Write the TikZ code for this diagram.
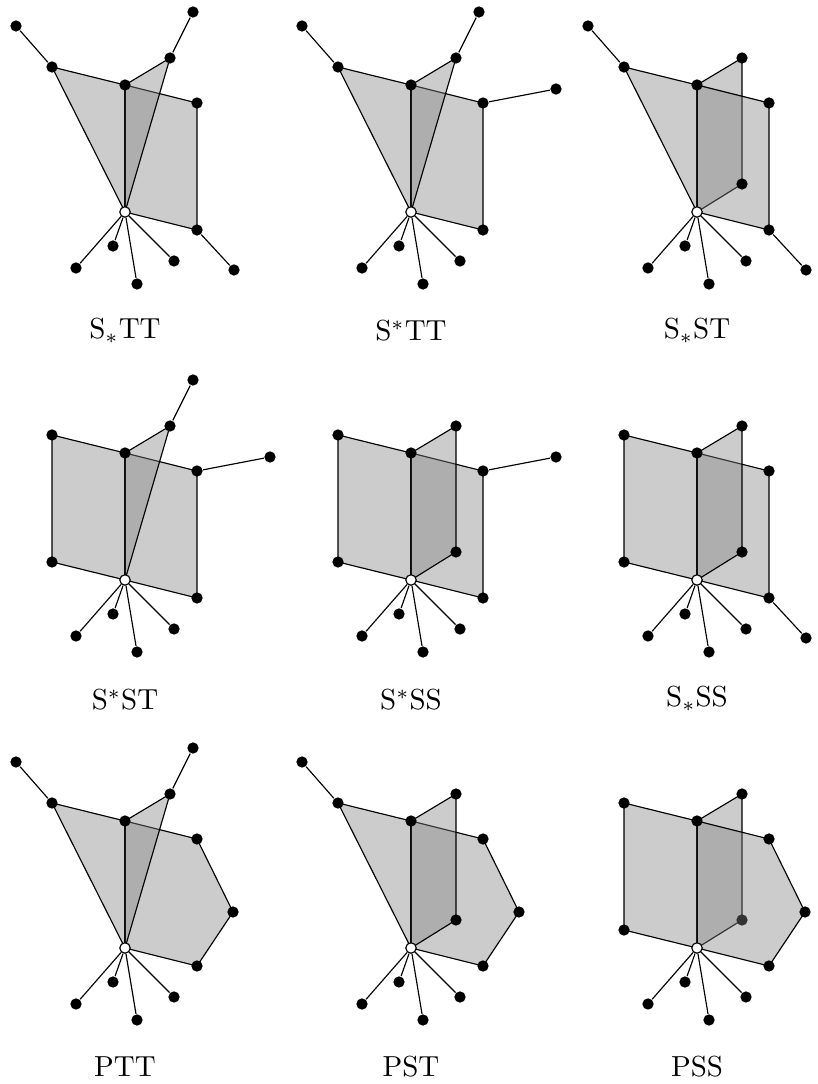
\documentclass[tikz,border=0pt]{standalone}
\usepackage{amsmath, amssymb}
\usepackage{xcolor}
\usetikzlibrary{backgrounds}

\tikzset{
  blob/.style={circle, fill=black, inner sep=0pt, minimum size=3.9pt},
  hollow/.style={circle, draw, fill=white, inner sep=0pt, minimum size=3.6pt},
  face/.style={draw, fill=gray, fill opacity=.4, line join=round},
  lab/.style={anchor=base}
}

% hub with its four loose spokes
\newcommand{\hub}{
  \node[hollow] (w) at (0,0) {};
  \node[blob] (t) at (0,127) {};
  \node[blob] (s1) at (-49,-56) {};
  \node[blob] (s2) at (-12,-34) {};
  \node[blob] (s3) at (12,-72) {};
  \node[blob] (s4) at (49,-49) {};
  \draw (w)--(s1);
  \draw (w)--(s2);
  \draw (w)--(s3);
  \draw (w)--(s4);
}
% left page
\newcommand{\lefttri}{
  \node[blob] (l) at (-73,145) {};
  \node[blob] (lp) at (-109,186) {};
  \draw (l)--(lp);
  \begin{scope}[on background layer]
    \draw[face] (w.center)--(t.center)--(l.center)--cycle;
  \end{scope}
}
\newcommand{\leftsq}{
  \node[blob] (l) at (-73,145) {};
  \node[blob] (ld) at (-73,18) {};
  \begin{scope}[on background layer]
    \draw[face] (w.center)--(t.center)--(l.center)--(ld.center)--cycle;
  \end{scope}
}
% back page
\newcommand{\backtri}{
  \node[blob] (b) at (45,154) {};
  \node[blob] (bp) at (68,200) {};
  \draw (b)--(bp);
  \begin{scope}[on background layer]
    \draw[face] (w.center)--(t.center)--(b.center)--cycle;
  \end{scope}
}
\newcommand{\backsq}[1][]{
  \node[blob] (b) at (45,154) {};
  \node[blob, #1] (bd) at (45,28) {};
  \begin{scope}[on background layer]
    \draw[face] (w.center)--(t.center)--(b.center)--(bd.center)--cycle;
  \end{scope}
}
% right page
\newcommand{\rightsq}{
  \node[blob] (ru) at (72,109) {};
  \node[blob] (rd) at (72,-18) {};
  \begin{scope}[on background layer]
    \draw[face] (w.center)--(t.center)--(ru.center)--(rd.center)--cycle;
  \end{scope}
}
\newcommand{\rightpent}{
  \node[blob] (ru) at (72,109) {};
  \node[blob] (rm) at (108,36) {};
  \node[blob] (rd) at (72,-18) {};
  \begin{scope}[on background layer]
    \draw[face] (w.center)--(t.center)--(ru.center)--(rm.center)--(rd.center)--cycle;
  \end{scope}
}
\newcommand{\uptail}{
  \node[blob] (rp) at (145,123) {};
  \draw (ru)--(rp);
}
\newcommand{\lowtail}{
  \node[blob] (rp) at (109,-58) {};
  \draw (rd)--(rp);
}

\begin{document}
\begin{tikzpicture}[x=.345pt, y=.345pt]
  \useasboundingbox (0,0) rectangle (817,1084);

  % top row
  \begin{scope}[shift={(125,872)}]
    \hub \rightsq \lowtail \lefttri \backtri
    \node[lab] (c1) at (0,-127) {$\mathrm{S}_*\mathrm{TT}$};
  \end{scope}
  \begin{scope}[shift={(411,872)}]
    \hub \rightsq \uptail \lefttri \backtri
    \node[lab] (c2) at (0,-129) {$\mathrm{S}^*\mathrm{TT}$};
  \end{scope}
  \begin{scope}[shift={(697,872)}]
    \hub \backsq \rightsq \lowtail \lefttri
    \node[lab] (c3) at (0,-127) {$\mathrm{S}_*\mathrm{ST}$};
  \end{scope}

  % middle row
  \begin{scope}[shift={(125,504)}]
    \hub \rightsq \uptail \leftsq \backtri
    \node[lab] (c4) at (0,-130) {$\mathrm{S}^*\mathrm{ST}$};
  \end{scope}
  \begin{scope}[shift={(411,504)}]
    \hub \rightsq \uptail \leftsq \backsq
    \node[lab] (c5) at (0,-130) {$\mathrm{S}^*\mathrm{SS}$};
  \end{scope}
  \begin{scope}[shift={(697,504)}]
    \hub \rightsq \lowtail \leftsq \backsq
    \node[lab] (c6) at (0,-127) {$\mathrm{S}_*\mathrm{SS}$};
  \end{scope}

  % bottom row
  \begin{scope}[shift={(125,136)}]
    \hub \rightpent \lefttri \backtri
    \node[lab] (c7) at (0,-129) {PTT};
  \end{scope}
  \begin{scope}[shift={(411,136)}]
    \hub \rightpent \lefttri \backsq
    \node[lab] (c8) at (0,-129) {PST};
  \end{scope}
  \begin{scope}[shift={(697,136)}]
    \hub \backsq[fill=black!80] \rightpent \leftsq
    \node[lab] (c9) at (0,-129) {PSS};
  \end{scope}
\end{tikzpicture}
\end{document}
